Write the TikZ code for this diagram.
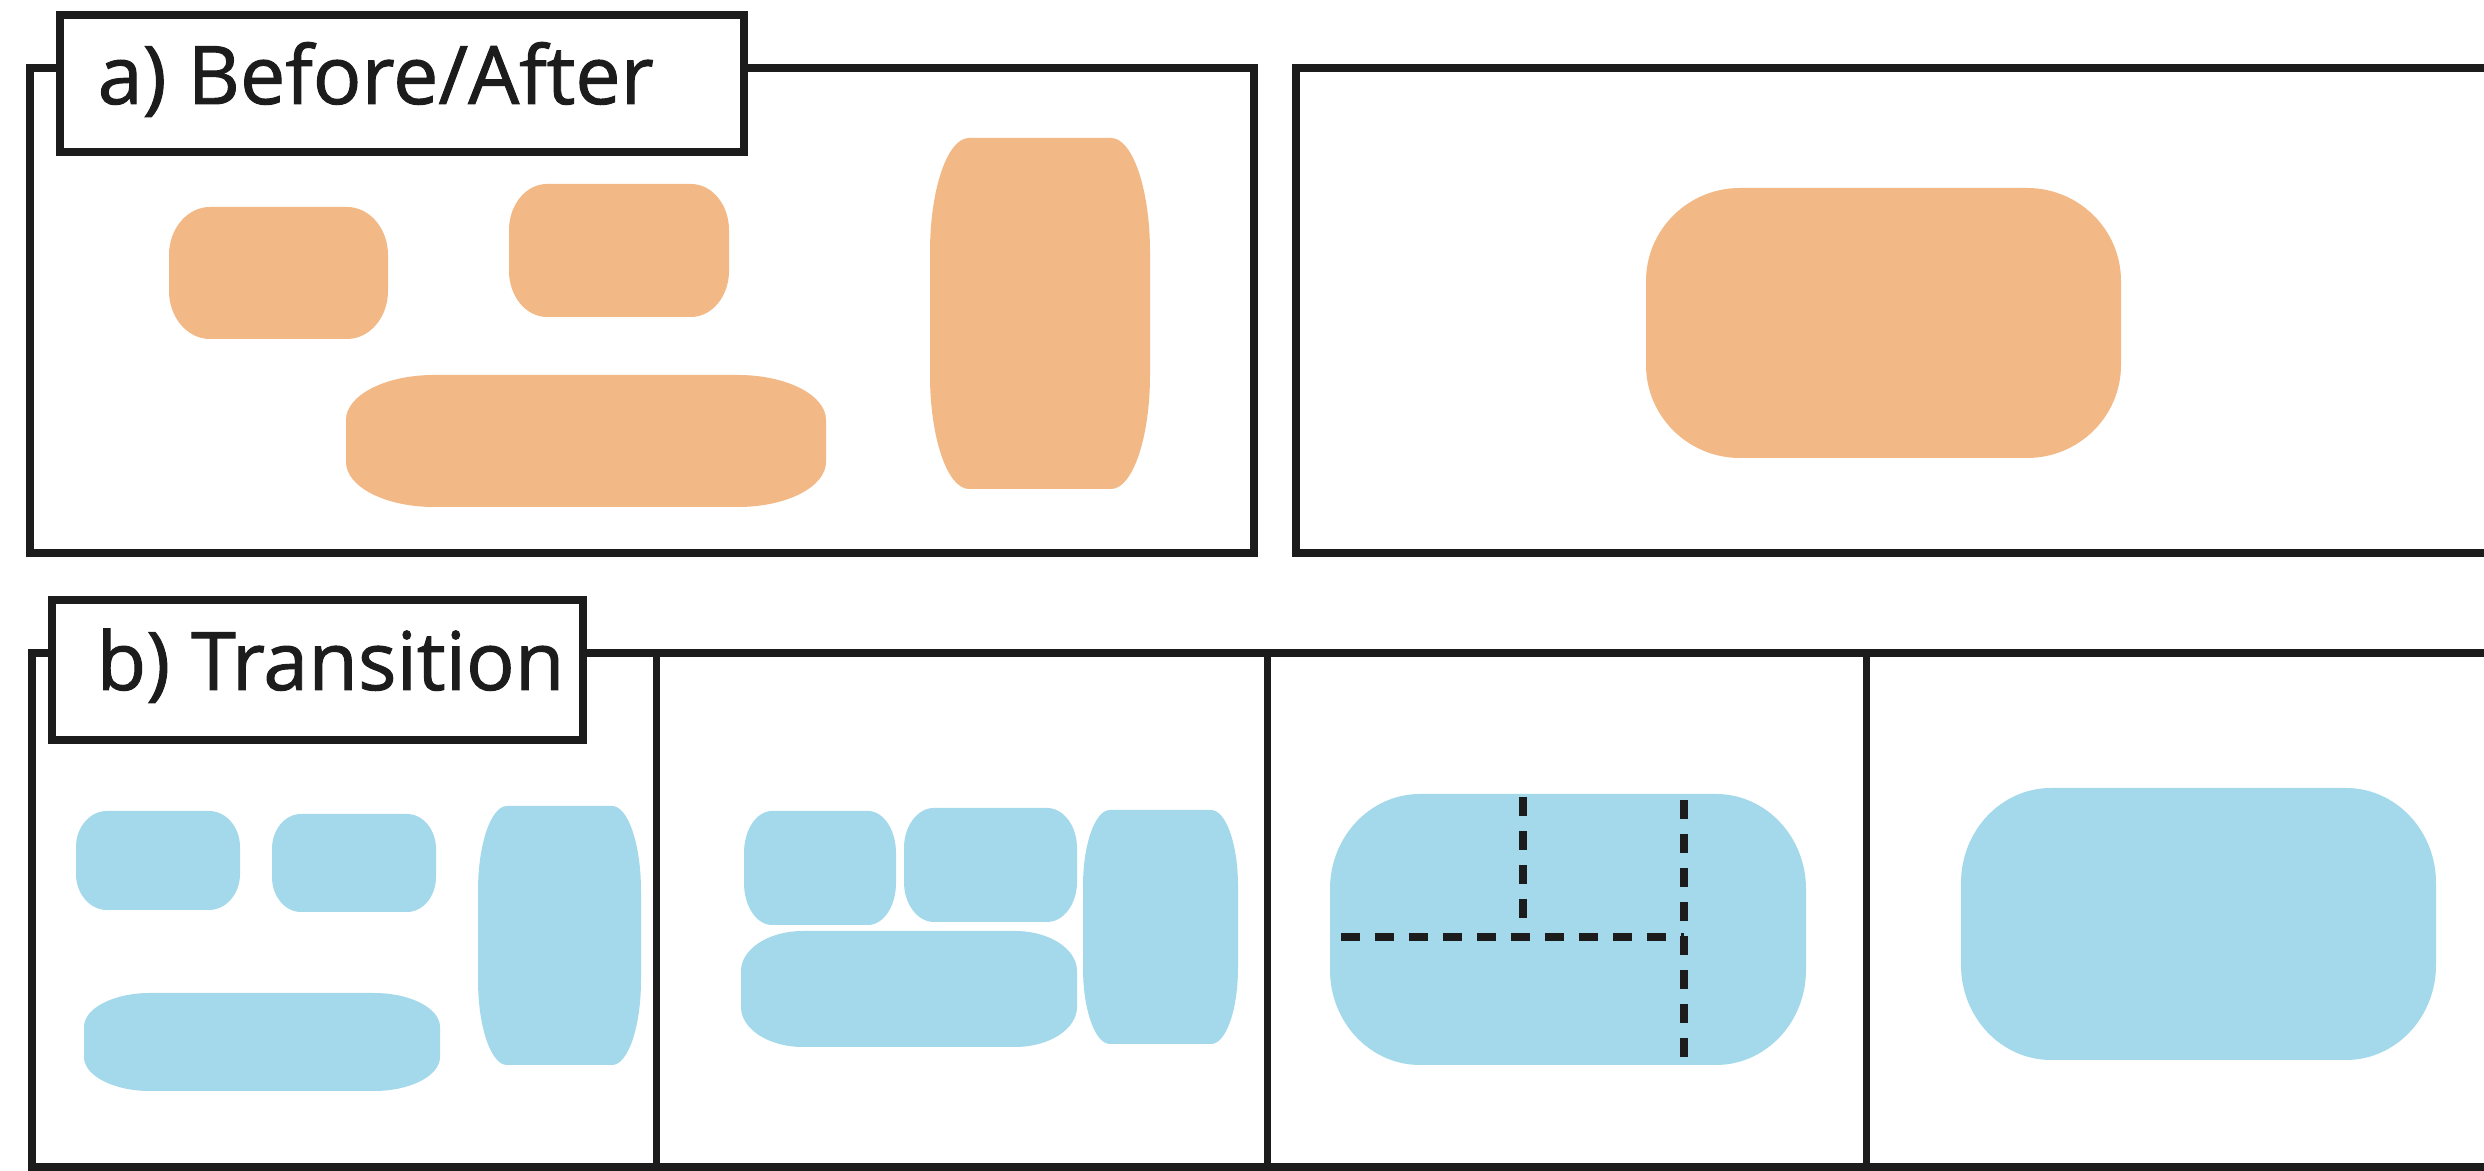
\documentclass[tikz,border=0pt]{standalone}
\usepackage{fontspec}
\setmainfont{Open Sans}
\newfontfamily\labelfont[FakeBold=1.2]{Open Sans}
\definecolor{orangefill}{RGB}{242,185,135}
\definecolor{bluefill}{RGB}{163,217,234}
\definecolor{frameline}{RGB}{28,28,28}
\newcommand{\erect}[7]{%
 \fill[#7] (#1,{#2+#6}) .. controls (#1,{#2+0.448*#6}) and ({#1+0.448*#5},#2) .. ({#1+#5},#2)
  -- ({#3-#5},#2) .. controls ({#3-0.448*#5},#2) and (#3,{#2+0.448*#6}) .. (#3,{#2+#6})
  -- (#3,{#4-#6}) .. controls (#3,{#4-0.448*#6}) and ({#3-0.448*#5},#4) .. ({#3-#5},#4)
  -- ({#1+#5},#4) .. controls ({#1+0.448*#5},#4) and (#1,{#4-0.448*#6}) .. (#1,{#4-#6}) -- cycle;}
\begin{document}
\begin{tikzpicture}[x=0.01cm,y=-0.01cm,
  panel/.style={draw=frameline,line width=0.08cm},
  divider/.style={draw=frameline,line width=0.07cm},
  labelbox/.style={draw=frameline,fill=white,line width=0.08cm,inner sep=0pt},
  labeltext/.style={inner sep=0pt,font=\labelfont\fontsize{23}{28}\selectfont,text=frameline},
  orangeshape/.style={fill=orangefill},
  blueshape/.style={fill=bluefill},
  dashline/.style={draw=frameline,line width=0.085cm,dash pattern=on 0.19cm off 0.15cm}]
\useasboundingbox (0,0) rectangle (2484,1171);
\clip (0,0) rectangle (2484,1171);
\fill[white] (0,0) rectangle (2484,1171);

% ---------- a) Before/After ----------
\draw[panel] (30,68) rectangle (1254,553);
\draw[panel] (1296,68) rectangle (2600,553);

\erect{169}{207}{388}{339}{41}{48}{orangeshape}
\erect{509}{184}{729}{317}{38}{46}{orangeshape}
\erect{346}{375}{826}{507}{88}{45}{orangeshape}
\erect{930}{138}{1150}{489}{39}{114}{orangeshape}
\erect{1646}{188}{2121}{458}{94}{93}{orangeshape}

\node[labelbox,minimum width=6.84cm,minimum height=1.37cm] (labA) at (402,83.5) {};
\node[labeltext,anchor=base west] (txtA) at (97,104) {a) Before/After};

% ---------- b) Transition ----------
\draw[panel] (32,653) rectangle (2600,1167);
\draw[divider] (656,653) -- (656,1167);
\draw[divider] (1267,653) -- (1267,1167);
\draw[divider] (1866,653) -- (1866,1167);

% column 1
\erect{76}{811}{240}{910}{31}{36}{blueshape}
\erect{272}{814}{436}{912}{29}{35}{blueshape}
\erect{84}{993}{440}{1091}{66}{34}{blueshape}
\erect{478}{806}{641}{1065}{29}{85}{blueshape}
% column 2
\erect{744}{811}{896}{925}{28}{42}{blueshape}
\erect{904}{808}{1077}{922}{30}{40}{blueshape}
\erect{741}{931}{1077}{1047}{62}{40}{blueshape}
\erect{1083}{810}{1238}{1044}{27}{76}{blueshape}
% column 3
\erect{1330}{794}{1806}{1065}{90}{95}{blueshape}
\coordinate (v1t) at (1523,797);
\coordinate (v1b) at (1523,937);
\coordinate (hl) at (1341,937);
\coordinate (hr) at (1684,937);
\coordinate (v2t) at (1684,800);
\coordinate (v2b) at (1684,1064);
\draw[dashline] (v1t) -- (v1b);
\draw[dashline] (hl) -- (hr);
\draw[dashline] (v2t) -- (v2b);
% column 4
\erect{1961}{788}{2436}{1060}{90}{95}{blueshape}

\node[labelbox,minimum width=5.31cm,minimum height=1.40cm] (labB) at (317.5,670) {};
\node[labeltext,anchor=base west] (txtB) at (96,690) {b) Transition};
\end{tikzpicture}
\end{document}
